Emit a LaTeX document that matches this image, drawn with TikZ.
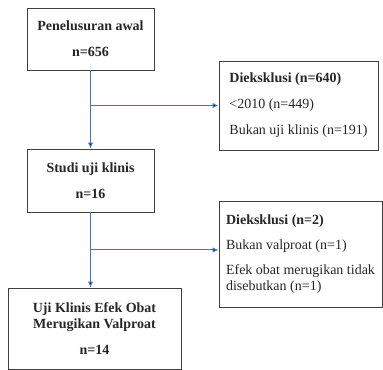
\documentclass[tikz,border=0pt]{standalone}
\usepackage{fontspec}
\setmainfont{Liberation Serif}
\usepackage{xcolor}
\usetikzlibrary{
    arrows.meta,
    calc,
    positioning
}
\definecolor{flowblue}{HTML}{4472C4}

\begin{document}
\begin{tikzpicture}[x=0.75pt, y=-0.75pt, >={Latex[length=4.5pt, width=4pt]},
    box/.style={draw=black!75, line width=0.7pt, inner sep=0pt, align=center,
        font=\fontsize{10.5}{12}\selectfont\bfseries, text=black!85},
    exbox/.style={draw=black!75, line width=0.7pt, inner sep=0pt, align=left,
        font=\fontsize{10.5}{12}\selectfont, text=black!85},
    flow/.style={draw=flowblue, line width=0.75pt}]
                        \useasboundingbox (0, 0) rectangle (383, 370);
                        \node[box, minimum width=95.25pt, minimum height=46.5pt] (awal) at (90.5, 39) {Penelusuran awal\\[7.5pt]n=656};
                        \node[exbox, minimum width=119.25pt, minimum height=66.75pt] (eks1) at (298.5, 105.5) {\textbf{Dieksklusi (n=640)}\\[7.5pt]<2010 (n=449)\\[7.5pt]Bukan uji klinis (n=191)};
                        \node[box, minimum width=95.25pt, minimum height=47.25pt] (studi) at (90.5, 180.5) {Studi uji klinis\\[7.5pt]n=16};
                        \node[exbox, minimum width=122.25pt, minimum height=79.5pt] (eks2) at (300.5, 254) {\textbf{Dieksklusi (n=2)}\\[6.5pt]Bukan valproat (n=1)\\[6.5pt]Efek obat merugikan tidak\\disebutkan (n=1)};
                        \node[box, minimum width=129.75pt, minimum height=60.75pt] (hasil) at (94.5, 328.5) {Uji Klinis Efek Obat\\Merugikan Valproat\\[7pt]n=14};

                        \coordinate (c1) at (awal.south |- eks1.west);
                        \coordinate (c2) at ($(studi.south)!0.5!(studi.south |- hasil.north)$);

                        \draw[flow]
                        (awal.south) edge[->] (studi.north)
                        (c1) edge[->] (eks1.west)
                        (studi.south) edge[->] (studi.south |- hasil.north)
                        (c2) edge[->] (c2 -| eks2.west);
                    \end{tikzpicture}
\end{document}
